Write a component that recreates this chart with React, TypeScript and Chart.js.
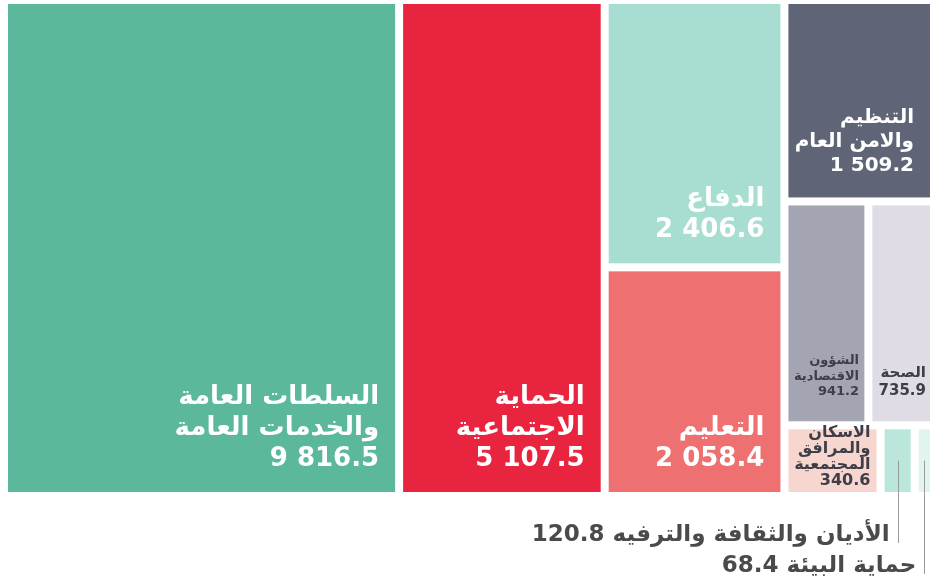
import React, { useEffect, useRef } from "react";
import { Chart, registerables } from "chart.js";

Chart.register(...registerables);

// ---- Data ----
const categories: string[] = [
  "السلطات العامة\nوالخدمات العامة",
  "الحماية\nالاجتماعية",
  "الدفاع",
  "التعليم",
  "التنظيم\nوالامن العام",
  "الشؤون\nالاقتصادية",
  "الصحة",
  "الاسكان\nوالمرافق\nالمجتمعية",
  "الأديان والثقافة والترفيه",
  "حماية البيئة",
];

const values: number[] = [9816.5, 5107.5, 2406.6, 2058.4, 1509.2, 941.2, 735.9, 340.6, 120.8, 68.4];

// ---- Styles ----
const fillColors: string[] = [
  "#5cb89c",
  "#e8243f",
  "#a8ded1",
  "#ef7070",
  "#5f6477",
  "#a4a5b3",
  "#dfdce6",
  "#f8d6d0",
  "#bbe6dc",
  "#e2f4ef",
];

const textColors: string[] = [
  "#ffffff",
  "#ffffff",
  "#ffffff",
  "#ffffff",
  "#ffffff",
  "#3d3e48",
  "#3d3e48",
  "#3d3e48",
  "#4a4a4a",
  "#4a4a4a",
];

const labelOutside: boolean[] = [false, false, false, false, false, false, false, false, true, true];

// Treemap nesting (slice-and-dice structure); sizes come from values
type TNode = number | { dir: "h" | "v"; children: TNode[] };
const tree: TNode = {
  dir: "h",
  children: [
    0,
    1,
    { dir: "v", children: [2, 3] },
    {
      dir: "v",
      children: [4, { dir: "h", children: [5, 6] }, { dir: "h", children: [7, 8, 9] }],
    },
  ],
};

const FONT = '"DejaVu Sans", sans-serif';

function nodeSum(n: TNode): number {
  if (typeof n === "number") return values[n];
  return n.children.reduce((a, c) => a + nodeSum(c), 0);
}

type Cell = { i: number; x0: number; y0: number; x1: number; y1: number };

function layoutTree(n: TNode, x0: number, y0: number, x1: number, y1: number, out: Cell[]) {
  if (typeof n === "number") {
    out.push({ i: n, x0, y0, x1, y1 });
    return;
  }
  const total = nodeSum(n);
  let acc = 0;
  for (const c of n.children) {
    const f0 = acc / total;
    acc += nodeSum(c);
    const f1 = acc / total;
    if (n.dir === "h") layoutTree(c, x0 + (x1 - x0) * f0, y0, x0 + (x1 - x0) * f1, y1, out);
    else layoutTree(c, x0, y0 + (y1 - y0) * f0, x1, y0 + (y1 - y0) * f1, out);
  }
}

function fmt(v: number): string {
  const [ip, dp] = v.toFixed(1).split(".");
  return ip.replace(/\B(?=(\d{3})+(?!\d))/g, " ") + "." + dp;
}

const treemapPlugin = {
  id: "treemapCells",
  afterDatasetsDraw(chart: any) {
    const ctx: CanvasRenderingContext2D = chart.ctx;
    const xs = chart.scales.x;
    const ys = chart.scales.y;
    const area = chart.chartArea;
    const cells: Cell[] = [];
    layoutTree(tree, 0, 0, 1, 1, cells);
    const half = 4;
    const pix = cells.map((c) => {
      const a = xs.getPixelForValue(c.x0);
      const b = xs.getPixelForValue(c.x1);
      const p = ys.getPixelForValue(c.y0);
      const q = ys.getPixelForValue(c.y1);
      return {
        i: c.i,
        l: Math.min(a, b) + half,
        r: Math.max(a, b) - half,
        t: Math.min(p, q) + half,
        b: Math.max(p, q) - half,
      };
    });

    ctx.save();
    // rectangles
    for (const p of pix) {
      ctx.fillStyle = fillColors[p.i];
      ctx.fillRect(p.l, p.t, p.r - p.l, p.b - p.t);
    }

    // inside labels
    for (const p of pix) {
      if (labelOutside[p.i]) continue;
      const w = p.r - p.l;
      const h = p.b - p.t;
      const lines = [...categories[p.i].split("\n"), fmt(values[p.i])];
      const padR = w > 120 ? 16 : Math.max(4, w * 0.07);
      const padB = h > 120 ? 26 : 7;
      let size = 26;
      for (; size > 8; size--) {
        ctx.font = `bold ${size}px ${FONT}`;
        const mw = Math.max(...lines.map((s) => ctx.measureText(s).width));
        if (mw <= w - padR - 4) break;
      }
      ctx.font = `bold ${size}px ${FONT}`;
      const lineH = Math.min(size * 1.2, (h - padB - 4) / lines.length + size * 0.2);
      ctx.fillStyle = textColors[p.i];
      ctx.textAlign = "right";
      ctx.textBaseline = "alphabetic";
      const n = lines.length;
      lines.forEach((s, k) => {
        const isNum = k === n - 1;
        (ctx as any).direction = isNum ? "ltr" : "rtl";
        ctx.fillText(s, p.r - padR, p.b - padB - (n - 1 - k) * lineH);
      });
    }

    // outside labels with leader lines
    let j = 0;
    for (const p of pix) {
      if (!labelOutside[p.i]) continue;
      const cx = (p.l + p.r) / 2;
      const cy = (p.t + p.b) / 2;
      const baseY = area.bottom + 45 + j * 31;
      ctx.strokeStyle = "#9a9a9a";
      ctx.lineWidth = 1;
      ctx.beginPath();
      ctx.moveTo(Math.round(cx) + 0.5, cy);
      ctx.lineTo(Math.round(cx) + 0.5, baseY + 2);
      ctx.stroke();
      ctx.font = `bold 23px ${FONT}`;
      ctx.fillStyle = textColors[p.i];
      ctx.textAlign = "right";
      (ctx as any).direction = "rtl";
      ctx.fillText(`${categories[p.i]} ${fmt(values[p.i])}`, cx - 8, baseY);
      j++;
    }
    ctx.restore();
  },
};

export default function App() {
  const ref = useRef<HTMLCanvasElement | null>(null);
  useEffect(() => {
    document.body.style.margin = "0";
    if (!ref.current) return;
    const chart = new Chart(ref.current, {
      type: "scatter",
      data: {
        datasets: [
          {
            label: "cells",
            data: [],
          },
        ],
      },
      options: {
        animation: false,
        responsive: false,
        layout: { padding: { left: 4, right: 2, top: 0, bottom: 83 } },
        plugins: { legend: { display: false }, tooltip: { enabled: false } },
        scales: {
          x: { type: "linear", min: 0, max: 1, display: false },
          y: { type: "linear", min: 0, max: 1, reverse: true, display: false },
        },
      },
      plugins: [treemapPlugin],
    });
    return () => chart.destroy();
  }, []);
  return (
    <div style={{ width: 936, height: 579, background: "#ffffff" }}>
      <canvas ref={ref} width={936} height={579} style={{ display: "block" }} />
    </div>
  );
}
